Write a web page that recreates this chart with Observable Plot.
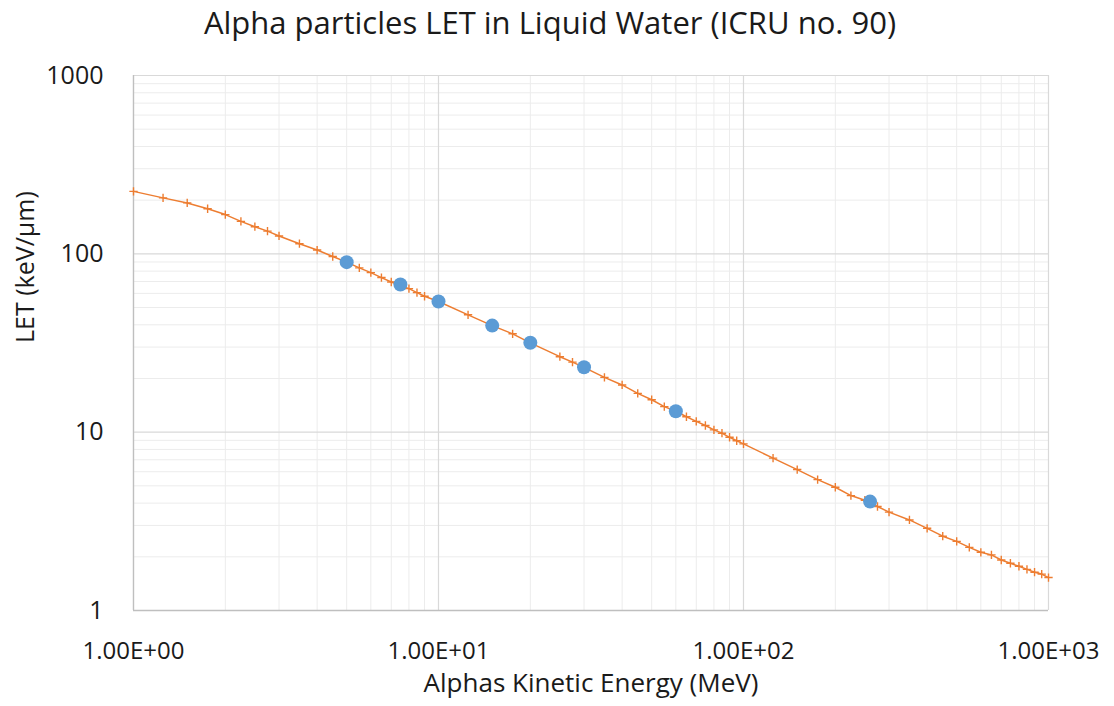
<!DOCTYPE html>
<html>
<head>
<meta charset="utf-8">
<script src="https://cdn.jsdelivr.net/npm/d3@7"></script>
<script src="https://cdn.jsdelivr.net/npm/@observablehq/plot@0.6"></script>
<style>
  html, body { margin: 0; padding: 0; background: #fff; }
  #title { height: 44px; line-height: 44px; text-align: center; font-family: "Open Sans", sans-serif; font-size: 31px; color: #1a1a1a; white-space: nowrap; padding-right: 14px; }
  #chart svg { display: block; }
</style>
</head>
<body>
<div id="title">Alpha particles LET in Liquid Water (ICRU no. 90)</div>
<div id="chart"></div>
<script>
const energy = [1, 1.25, 1.5, 1.75, 2, 2.25, 2.5, 2.75, 3, 3.5, 4, 4.5, 5, 5.5, 6, 6.5, 7, 7.5, 8, 8.5, 9, 10, 12.5, 15, 17.5, 20, 25, 27.5, 30, 35, 40, 45, 50, 55, 60, 65, 70, 75, 80, 85, 90, 95, 100, 125, 150, 175, 200, 225, 250, 275, 300, 350, 400, 450, 500, 550, 600, 650, 700, 750, 800, 850, 900, 950, 1000];
const letValues = [224, 206, 193, 179, 166, 152, 142, 134, 126, 114, 105, 96.6, 89.8, 83.4, 78.5, 73.6, 69.5, 66.5, 63.8, 60.6, 57.8, 54, 45.5, 39.6, 35.6, 31.7, 26.5, 24.7, 23.1, 20.3, 18.4, 16.5, 15.2, 13.9, 13.1, 12.2, 11.5, 10.9, 10.3, 9.87, 9.36, 8.95, 8.6, 7.15, 6.17, 5.42, 4.91, 4.41, 4.15, 3.83, 3.56, 3.22, 2.89, 2.61, 2.44, 2.26, 2.12, 2.05, 1.92, 1.84, 1.77, 1.70, 1.64, 1.60, 1.53];
const sampleEnergy = [5, 7.5, 10, 15, 20, 30, 60, 260];
const sampleLet = [89.8, 67.3, 54, 39.6, 31.7, 23.1, 13.1, 4.08];
const xTicks = [1, 10, 100, 1000];
const xTickLabels = ["1.00E+00", "1.00E+01", "1.00E+02", "1.00E+03"];
const yTicks = [1, 10, 100, 1000];
const yTickLabels = ["1", "10", "100", "1000"];
const minorMult = [2, 3, 4, 5, 6, 7, 8, 9];
const xLabel = "Alphas Kinetic Energy (MeV)";
const yLabel = "LET (keV/µm)";

const curve = energy.map((e, i) => ({e, v: letValues[i]}));
const samples = sampleEnergy.map((e, i) => ({e, v: sampleLet[i]}));
const minorX = xTicks.slice(0, -1).flatMap(d => minorMult.map(m => d * m));
const minorY = yTicks.slice(0, -1).flatMap(d => minorMult.map(m => d * m));

const chart = Plot.plot({
  width: 1114,
  height: 662,
  marginTop: 31,
  marginBottom: 96,
  marginLeft: 133,
  marginRight: 66,
  style: {fontFamily: "'Open Sans', sans-serif", color: "#1a1a1a", background: "#fff", overflow: "visible"},
  x: {type: "log", domain: [1, 1000]},
  y: {type: "log", domain: [1, 1000]},
  marks: [
    Plot.ruleX(minorX, {stroke: "#ececec", strokeWidth: 1}),
    Plot.ruleY(minorY, {stroke: "#ececec", strokeWidth: 1}),
    Plot.ruleX(xTicks, {stroke: "#d9d9d9", strokeWidth: 1.2}),
    Plot.ruleY(yTicks, {stroke: "#d9d9d9", strokeWidth: 1.2}),
    Plot.ruleX([1], {stroke: "#bfbfbf", strokeWidth: 1.3}),
    Plot.ruleY([1], {stroke: "#bfbfbf", strokeWidth: 1.3}),
    Plot.axisX({ticks: xTicks, tickFormat: d => xTickLabels[xTicks.indexOf(d)], tickSize: 0, tickPadding: 31, fontSize: 24, label: null, fill: "#1a1a1a"}),
    Plot.axisY({ticks: yTicks, tickFormat: d => yTickLabels[yTicks.indexOf(d)], tickSize: 0, tickPadding: 30, fontSize: 25, label: null, fill: "#1a1a1a"}),
    Plot.line(curve, {x: "e", y: "v", stroke: "#ED7D31", strokeWidth: 1.5}),
    Plot.dot(curve, {x: "e", y: "v", symbol: "plus", r: 2.8, stroke: "#ED7D31", strokeWidth: 1.4}),
    Plot.dot(samples, {x: "e", y: "v", r: 7, fill: "#5B9BD5"}),
    Plot.text([xLabel], {frameAnchor: "bottom", dy: 81, fontSize: 26, fill: "#1a1a1a"}),
    Plot.text([yLabel], {frameAnchor: "left", dx: -108, rotate: -90, fontSize: 25, fill: "#1a1a1a"})
  ]
});
document.getElementById("chart").appendChild(chart);
</script>
</body>
</html>
